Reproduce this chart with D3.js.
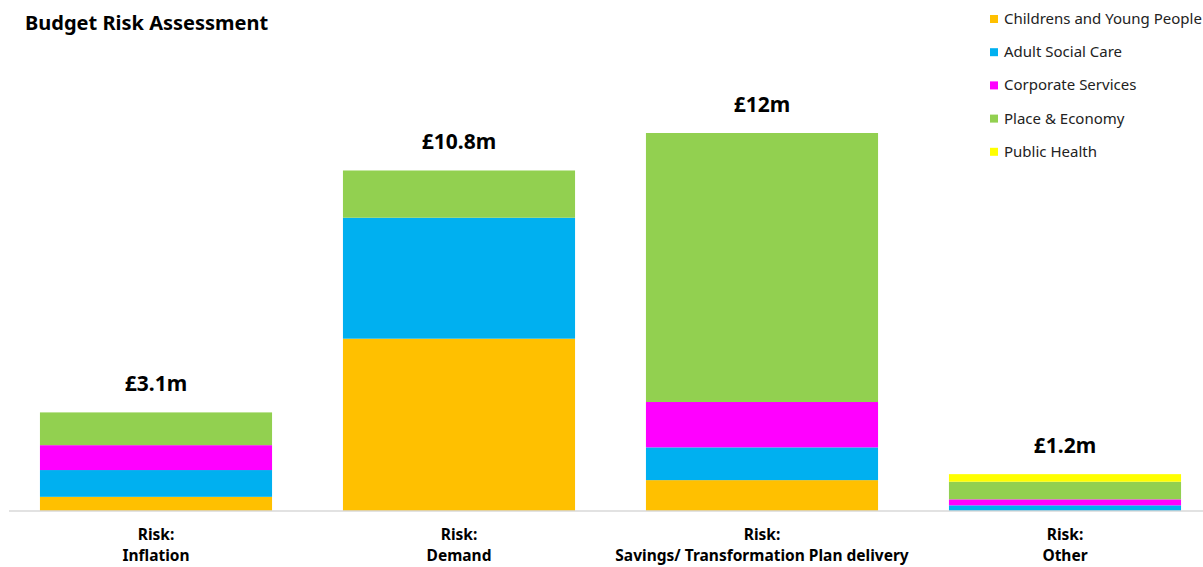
<!DOCTYPE html>
<html>
<head>
<meta charset="utf-8">
<script src="https://cdn.jsdelivr.net/npm/d3@7"></script>
<style>
  body { margin: 0; background: #fff; }
  svg { display: block; font-family: 'Noto Sans', 'Open Sans', sans-serif; }
</style>
</head>
<body>
<svg id="chart"></svg>
<script>
const categories = ['Inflation', 'Demand', 'Savings/ Transformation Plan delivery', 'Other']
const totalLabels = ['£3.1m', '£10.8m', '£12m', '£1.2m']
const seriesNames = ['Childrens and Young People', 'Adult Social Care', 'Corporate Services', 'Place & Economy', 'Public Health']

// £m per directorate, one value per category
const childrens = [0.45, 5.47, 0.98, 0]
const adultCare = [0.85, 3.84, 1.04, 0.18]
const corporate = [0.79, 0, 1.44, 0.19]
const place = [1.04, 1.50, 8.54, 0.56]
const publicHealth = [0, 0, 0, 0.24]

const colors = ['#FFC000', '#00B0F0', '#FF00FF', '#92D050', '#FFFF00']

const width = 1203
const height = 567
const baseline = 511

const rows = categories.map((c, i) => ({
  category: c,
  label: totalLabels[i],
  [seriesNames[0]]: childrens[i],
  [seriesNames[1]]: adultCare[i],
  [seriesNames[2]]: corporate[i],
  [seriesNames[3]]: place[i],
  [seriesNames[4]]: publicHealth[i]
}))

const stacked = d3.stack().keys(seriesNames)(rows)

const x = d3.scaleBand()
  .domain(categories)
  .range([4.5, 1216.5])
  .paddingInner(0.234)
  .paddingOuter(0.117)

const y = d3.scaleLinear()
  .domain([0, 12])
  .range([baseline, 133])

const color = d3.scaleOrdinal().domain(seriesNames).range(colors)

const svg = d3.select('#chart')
  .attr('width', width)
  .attr('height', height)

svg.append('text')
  .attr('x', 25)
  .attr('y', 30)
  .style('font-size', '20px')
  .style('font-weight', 'bold')
  .attr('fill', '#000')
  .text('Budget Risk Assessment')

svg.append('g')
  .selectAll('g')
  .data(stacked)
  .join('g')
  .attr('fill', d => color(d.key))
  .selectAll('rect')
  .data(d => d)
  .join('rect')
  .attr('x', d => x(d.data.category))
  .attr('width', x.bandwidth())
  .attr('y', d => y(d[1]))
  .attr('height', d => y(d[0]) - y(d[1]))

// baseline axis
const xAxis = d3.axisBottom(x).tickSize(0).tickFormat('')
const axisG = svg.append('g')
  .attr('transform', `translate(0, ${baseline})`)
  .call(xAxis)
  .attr('font-family', null)
  .attr('font-size', null)
axisG.select('.domain').remove()
axisG.append('line')
  .attr('x1', 9)
  .attr('x2', width)
  .attr('stroke', '#d9d9d9')
  .attr('stroke-width', 1.5)

const tickG = axisG.selectAll('.tick')
tickG.select('text').remove()
tickG.append('text')
  .attr('y', 29)
  .attr('fill', '#000')
  .attr('text-anchor', 'middle')
  .style('font-size', '15.5px')
  .style('font-weight', 'bold')
  .text('Risk:')
tickG.append('text')
  .attr('y', 50)
  .attr('fill', '#000')
  .attr('text-anchor', 'middle')
  .style('font-size', '15.5px')
  .style('font-weight', 'bold')
  .text(d => d)

// totals above bars
const totals = rows.map(r => d3.sum(seriesNames, k => r[k]))
svg.append('g')
  .selectAll('text')
  .data(rows)
  .join('text')
  .attr('x', d => x(d.category) + x.bandwidth() / 2)
  .attr('y', (d, i) => y(totals[i]) - 21)
  .attr('text-anchor', 'middle')
  .style('font-size', '21px')
  .style('font-weight', 'bold')
  .attr('fill', '#000')
  .text(d => d.label)

// legend
const legend = svg.append('g')
  .selectAll('g')
  .data(seriesNames)
  .join('g')
  .attr('transform', (d, i) => `translate(990, ${19 + i * 33.2})`)

legend.append('rect')
  .attr('x', 0)
  .attr('y', -4)
  .attr('width', 8)
  .attr('height', 8)
  .attr('fill', d => color(d))

legend.append('text')
  .attr('x', 14)
  .attr('y', 5)
  .style('font-size', '15px')
  .attr('fill', '#222')
  .text(d => d)
</script>
</body>
</html>
